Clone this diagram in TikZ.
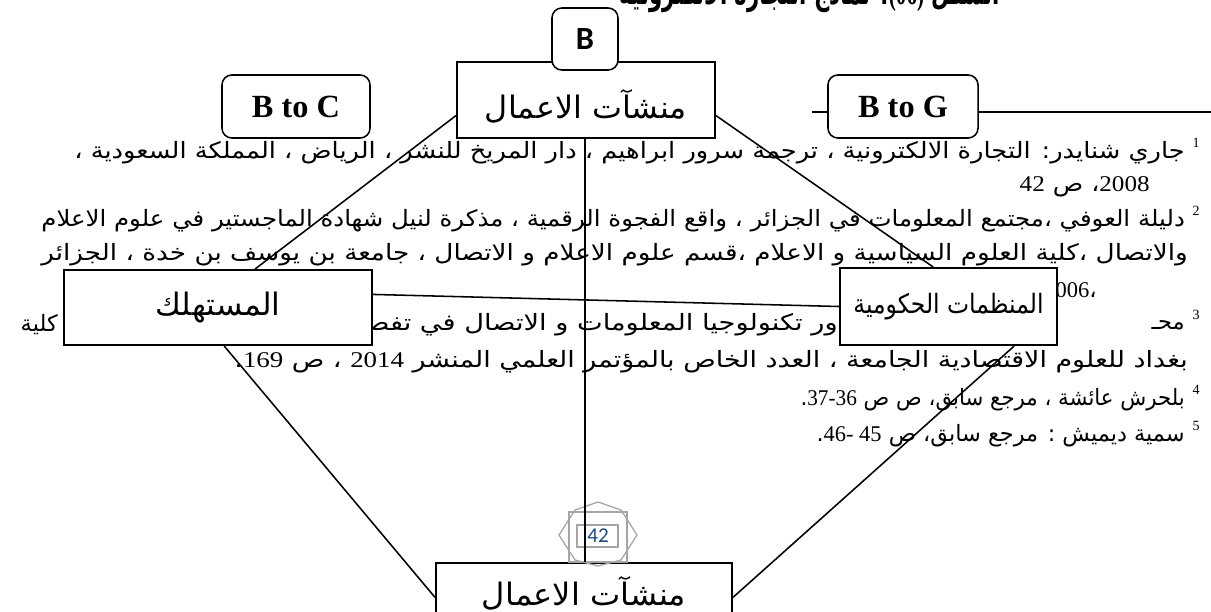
\documentclass[tikz,border=0pt]{standalone}
\usepackage{fontspec}
\usepackage{graphicx}
\usetikzlibrary{positioning,calc}
\TeXXeTstate=1
\newfontfamily\arabicfont[Script=Arabic]{DejaVu Sans}
\newfontfamily\numfont{Liberation Serif}
\newfontfamily\calfont{Carlito}
\definecolor{PageBlue}{RGB}{31,73,125}
\definecolor{LogoGray}{RGB}{165,165,165}
\newcommand{\fitline}[2]{\resizebox{#1}{\height}{\arabicfont\beginR #2\endR}}
\newcommand{\nm}[1]{\beginL{\numfont #1}\endL}

\begin{document}
\begin{tikzpicture}[
    x=0.025cm, y=-0.025cm,
    fnline/.style={anchor=east, inner sep=0pt, font=\arabicfont\fontsize{16}{18}\selectfont},
    fnmark/.style={anchor=east, inner sep=0pt, font=\numfont\fontsize{10}{10}\selectfont},
    actor/.style={draw, line width=1.4pt, fill=white, inner sep=0pt, font=\arabicfont\fontsize{22}{24}\selectfont},
    tag/.style={draw, rounded corners=7pt, line width=1.1pt, fill=white, inner sep=0pt},
    link/.style={line width=1.1pt},
  ]
    \useasboundingbox (0,0) rectangle (1211,612);
    \clip (0,0) rectangle (1211,612);
    \fill[white] (0,0) rectangle (1211,612);

    % caption, cut by the top edge
    \node[anchor=base east, inner sep=0pt, font=\arabicfont\bfseries\fontsize{24}{26}\selectfont] (caption) at (1000,4) {\fitline{9.5cm}{الشكل \beginL{\numfont\bfseries (06)}\endL: نماذج التجارة الالكترونية}};

    % footnotes
    \node[fnline] (fnA) at (1185,153) {\fitline{27.75cm}{جاري شنايدر: التجارة الالكترونية ، ترجمة سرور ابراهيم ، دار المريخ للنشر ، الرياض ، المملكة السعودية ،}};
    \node[fnline] (fnB) at (1150,187) {\fitline{3.25cm}{\nm{2008}، ص \nm{42}}};
    \node[fnline] (fnC) at (1185,221) {\fitline{28.575cm}{دليلة العوفي ،مجتمع المعلومات في الجزائر ، واقع الفجوة الرقمية ، مذكرة لنيل شهادة الماجستير في علوم الاعلام}};
    \node[fnline] (fnD) at (1188,255) {\fitline{28.65cm}{والاتصال ،كلية العلوم السياسية و الاعلام ،قسم علوم الاعلام و الاتصال ، جامعة بن يوسف بن خدة ، الجزائر}};
    \node[fnline] (fnE) at (1097,290) {{\numfont 2006}،};
    \node[fnline] (fnF) at (1185,325) {\arabicfont\beginR محـ\endR};
    \node[fnline] (fnG) at (838,325) {\fitline{12.5cm}{ور تكنولوجيا المعلومات و الاتصال في تفصيل}};
    \node[fnline] (fnH) at (58,325) {\arabicfont\beginR كلية\endR};
    \node[fnline] (fnI) at (1188,362) {\fitline{23.825cm}{بغداد للعلوم الاقتصادية الجامعة ، العدد الخاص بالمؤتمر العلمي المنشر \nm{2014} ، ص \nm{169}.}};
    \node[fnline] (fnJ) at (1185,400) {\fitline{9.6cm}{بلحرش عائشة ، مرجع سابق، ص ص \nm{37-36}.}};
    \node[fnline] (fnK) at (1185,436) {\fitline{9.2cm}{سمية ديميش : مرجع سابق، ص \nm{46- 45}.}};
    \node[fnmark] (mkA) at (1200,143) {1};
    \node[fnmark] (mkB) at (1200,211) {2};
    \node[fnmark] (mkC) at (1200,315) {3};
    \node[fnmark] (mkD) at (1200,390) {4};
    \node[fnmark] (mkE) at (1200,426) {5};

    % footnote rule
    \coordinate (ruleL) at (812,112);
    \coordinate (ruleR) at (1211,112);
    \draw[link] (ruleL) -- (ruleR);

    % boxes
    \node[actor, minimum width=6.45cm, minimum height=1.9cm, text height=30pt, text depth=4pt] (top) at (586,100) {\resizebox{5.05cm}{\height}{\beginR منشآت الاعمال\endR}};
    \node[tag, minimum width=1.65cm, minimum height=1.55cm, font=\calfont\bfseries\fontsize{23}{25}\selectfont] (btag) at (585,39) {B};
    \node[tag, minimum width=3.7cm, minimum height=1.575cm, font=\numfont\bfseries\fontsize{23}{25}\selectfont] (btoc) at (296,106.5) {B to C};
    \node[tag, minimum width=3.75cm, minimum height=1.575cm, font=\numfont\bfseries\fontsize{23}{25}\selectfont] (btog) at (903,106.5) {B to G};
    \node[actor, minimum width=7.675cm, minimum height=1.875cm] (cons) at (218,307.5) {\resizebox{3.125cm}{\height}{\beginR المستهلك\endR}};
    \node[actor, minimum width=5.425cm, minimum height=1.925cm, font=\arabicfont\fontsize{19}{21}\selectfont] (gov) at (948.5,306.5) {\resizebox{4.75cm}{\height}{\beginR المنظمات الحكومية\endR}};
    \node[actor, minimum width=7.4cm, minimum height=1.5cm] (bot) at (584,593) {\resizebox{5.1cm}{\height}{\beginR منشآت الاعمال\endR}};

    % page mark
    \draw[LogoGray, line width=0.9pt] (569,512) rectangle (627,562);
    \draw[LogoGray, line width=0.9pt] (559,535) -- (575,510) -- (598,502) -- (621,510) -- (637,535) -- (621,560) -- (598,566) -- (575,560) -- cycle;
    \draw[LogoGray, line width=0.9pt] (577,525) rectangle (618,547);
    \node[font=\calfont\fontsize{15}{15}\selectfont, text=PageBlue, inner sep=0pt] (pagenum) at (598,536) {42};

    % connectors
    \draw[link] ($(top.north west)!0.7!(top.south west)$) -- ($(cons.north west)!0.62!(cons.north east)$);
    \draw[link] ($(top.north east)!0.7!(top.south east)$) -- ($(gov.north west)!0.43!(gov.north east)$);
    \draw[link] (top.south -| 585,0) -- (bot.north -| 585,0);
    \draw[link] ($(cons.north east)!0.33!(cons.south east)$) -- ($(gov.north west)!0.5!(gov.south west)$);
    \draw[link] ($(cons.south west)!0.52!(cons.south east)$) -- ($(bot.north west)!0.57!(bot.south west)$);
    \draw[link] ($(gov.south west)!0.8!(gov.south east)$) -- ($(bot.north east)!0.57!(bot.south east)$);
  \end{tikzpicture}
\end{document}
